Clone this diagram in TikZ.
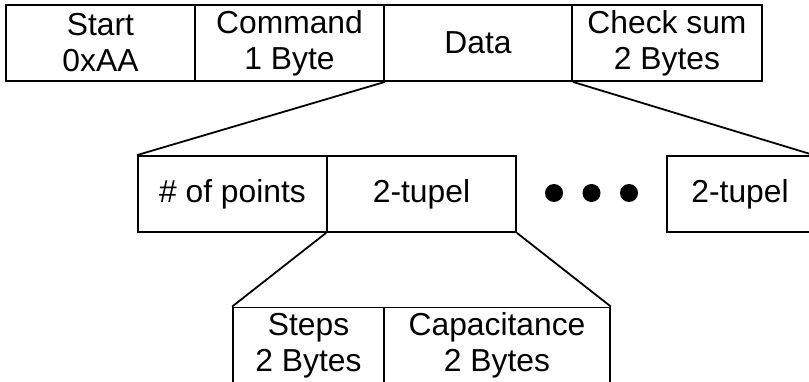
\documentclass[tikz,border=0pt]{standalone}
\usepackage{fontspec}
\setmainfont{Liberation Sans}
\begin{document}
\begin{tikzpicture}[x=1pt,y=-1pt,
  field/.style={draw, line width=1.8pt, minimum height=76pt, inner sep=0pt,
    align=center, font=\fontsize{31.8}{36}\selectfont},
  dotmark/.style={circle, fill=black, minimum size=18pt, inner sep=0pt},
  link/.style={line width=1.8pt}]
\useasboundingbox (0,0) rectangle (809,382);
\clip (0,0) rectangle (809,382);

% frame
\node[field, minimum width=189pt] (start) at (100.5,43) {Start\\0xAA};
\node[field, minimum width=189pt] (cmd)   at (289.5,43) {Command\\1 Byte};
\node[field, minimum width=188pt] (data)  at (478,43)   {Data};
\node[field, minimum width=190pt] (csum)  at (667,43)   {Check sum\\2 Bytes};

% data field
\node[field, minimum width=189pt] (npts)  at (232.5,194) {\# of points};
\node[field, minimum width=189pt] (tup)   at (421.5,194) {2-tupel};
\node[dotmark] (d1) at (554,193) {};
\node[dotmark] (d2) at (591.5,193) {};
\node[dotmark] (d3) at (629,193) {};
\node[field, minimum width=146pt] (tupn)  at (740,194) {2-tupel};

% one tuple
\node[field, minimum width=151pt] (steps) at (308.5,345.5) {Steps\\2 Bytes};
\node[field, minimum width=226pt] (cap)   at (497,345.5)   {Capacitance\\2 Bytes};

% expansion lines
\draw[link] (cmd.south east) -- (npts.north west);
\draw[link] (data.south east) -- (tupn.north east);
\draw[link] (tup.south west) -- (steps.north west);
\draw[link] (tup.south east) -- (cap.north east);
\end{tikzpicture}
\end{document}
